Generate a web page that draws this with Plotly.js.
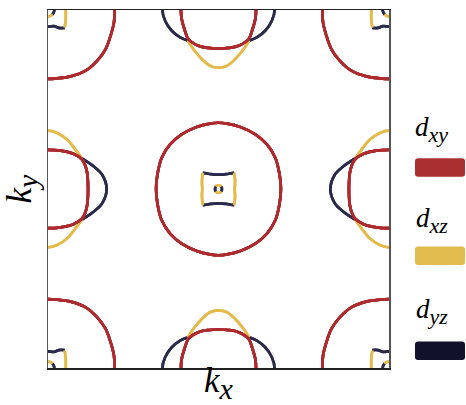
<!DOCTYPE html>
<html><head><meta charset="utf-8">
<script src="https://cdn.plot.ly/plotly-3.0.1.min.js"></script>
<style>html,body{margin:0;padding:0;background:#fff}#chart{width:466px;height:405px}</style>
</head><body><div id="chart"></div>
<script>
// Orbital characters (legend labels)
const orbitalLabels = ['<i>d</i><sub><i><span style="font-size:22px">xy</span></i></sub>',
                       '<i>d</i><sub><i><span style="font-size:22px">xz</span></i></sub>',
                       '<i>d</i><sub><i><span style="font-size:22px">yz</span></i></sub>'];
const orbitalColors = ['#ad2b2f', '#e4bb4b', '#2a2a4a'];
const legendColors = ['#a92f30', '#e2bb4f', '#11112b'];

// High-symmetry pocket centres (kx, ky in units of pi/a)
const gammaCenters = [[0, 0]];
const xCenters = [[-1, 0], [1, 0]];
const yCenters = [[0, 1], [0, -1]];
const mCenters = [[-1, 1], [1, 1], [-1, -1], [1, -1]];

// Fermi-surface contours, one quadrant relative to the pocket centre
// Gamma pocket
const gammaDxyX = [0.366, 0.358, 0.333, 0.284, 0.216, 0.128, 0.05, 0];
const gammaDxyY = [0, 0.082, 0.175, 0.249, 0.305, 0.346, 0.365, 0.37];
const gammaSqDyzX = [0, 0.045, 0.08, 0.092];
const gammaSqDyzY = [0.08, 0.083, 0.089, 0.09];
const gammaSqDxzX = [0.092, 0.096, 0.097, 0.095];
const gammaSqDxzY = [0.09, 0.06, 0.03, 0];
const gammaRingDxzX = [0, 0.011, 0.015];
const gammaRingDxzY = [0.021, 0.018, 0.014];
const gammaRingDyzX = [0.015, 0.019, 0.02];
const gammaRingDyzY = [0.014, 0.007, 0];

// X pocket (dx, dy)
const xDxyX = [0, 0.074, 0.152, 0.2, 0.226, 0.235];
const xDxyY = [0.219, 0.214, 0.195, 0.164, 0.108, 0];
const xDxzX = [0, 0.054, 0.113, 0.162, 0.197];
const xDxzY = [0.326, 0.313, 0.275, 0.219, 0.173];
const xDyzX = [0.197, 0.269, 0.318, 0.344];
const xDyzY = [0.173, 0.126, 0.08, 0];

// Y pocket (dx, dy)
const yDxyX = [0.22, 0.216, 0.2, 0.177, 0.118, 0.06, 0];
const yDxyY = [0, 0.05, 0.106, 0.162, 0.2, 0.212, 0.215];
const yDyzX = [0.329, 0.313, 0.274, 0.225, 0.18];
const yDyzY = [0, 0.06, 0.116, 0.153, 0.171];
const yDxzX = [0.18, 0.148, 0.098, 0.05, 0];
const yDxzY = [0.171, 0.218, 0.274, 0.311, 0.322];

// M pocket (dx, dy)
const mDxyX = [0.391, 0.387, 0.367, 0.338, 0.289, 0.221, 0.133, 0.054, 0];
const mDxyY = [0, 0.069, 0.144, 0.218, 0.283, 0.339, 0.371, 0.382, 0.385];
const mSqDxzX = [0.104, 0.104, 0.098];
const mSqDxzY = [0, 0.05, 0.097];
const mSqDyzX = [0.098, 0.064, 0.035, 0];
const mSqDyzY = [0.1, 0.1, 0.09, 0.093];
const mRingDxzX = [0, 0.018, 0.025];
const mRingDxzY = [0.036, 0.031, 0.025];
const mRingDyzX = [0.025, 0.033, 0.037];
const mRingDyzY = [0.025, 0.015, 0];

// Join a quadrant segment with its mirror images across the symmetry lines it touches
function buildArc(xs, ys) {
  let p = xs.map((v, i) => [v, ys[i]]);
  const mirror = (pts, ax) => pts.map(([a, b]) => ax === 'x' ? [-a, b] : [a, -b]);
  const last = p[p.length - 1];
  if (last[0] === 0) p = p.concat(mirror(p, 'x').reverse().slice(1));
  else if (last[1] === 0) p = p.concat(mirror(p, 'y').reverse().slice(1));
  const first = p[0];
  if (first[0] === 0) p = mirror(p, 'x').reverse().slice(0, -1).concat(p);
  else if (first[1] === 0) p = mirror(p, 'y').reverse().slice(0, -1).concat(p);
  return p;
}

function addPocket(store, centers, xs, ys) {
  const arc = buildArc(xs, ys);
  centers.forEach(([cx, cy]) => {
    [[1, 1], [-1, 1], [-1, -1], [1, -1]].forEach(([sx, sy]) => {
      arc.forEach(([a, b]) => { store.x.push(cx + sx * a); store.y.push(cy + sy * b); });
      store.x.push(null); store.y.push(null);
    });
  });
}

const dxy = {x: [], y: []}, dxz = {x: [], y: []}, dyz = {x: [], y: []};
addPocket(dxy, gammaCenters, gammaDxyX, gammaDxyY);
addPocket(dyz, gammaCenters, gammaSqDyzX, gammaSqDyzY);
addPocket(dxz, gammaCenters, gammaSqDxzX, gammaSqDxzY);
addPocket(dxz, gammaCenters, gammaRingDxzX, gammaRingDxzY);
addPocket(dyz, gammaCenters, gammaRingDyzX, gammaRingDyzY);
addPocket(dxy, xCenters, xDxyX, xDxyY);
addPocket(dxz, xCenters, xDxzX, xDxzY);
addPocket(dyz, xCenters, xDyzX, xDyzY);
addPocket(dxy, yCenters, yDxyX, yDxyY);
addPocket(dyz, yCenters, yDyzX, yDyzY);
addPocket(dxz, yCenters, yDxzX, yDxzY);
addPocket(dxy, mCenters, mDxyX, mDxyY);
addPocket(dxz, mCenters, mSqDxzX, mSqDxzY);
addPocket(dyz, mCenters, mSqDyzX, mSqDyzY);
addPocket(dxz, mCenters, mRingDxzX, mRingDxzY);
addPocket(dyz, mCenters, mRingDyzX, mRingDyzY);

const lineW = 2.7;
const mk = (d, i) => ({type: 'scatter', mode: 'lines', x: d.x, y: d.y, connectgaps: false,
  line: {color: orbitalColors[i], width: lineW, shape: 'spline', smoothing: 1},
  hoverinfo: 'skip', showlegend: false});
const data = [mk(dyz, 2), mk(dxz, 1), mk(dxy, 0)];

const serif = 'Liberation Serif, Times New Roman, serif';
const boxPath = 'M -22,-9.2 L 22,-9.2 Q 25,-9.2 25,-6.2 L 25,6.2 Q 25,9.2 22,9.2 L -22,9.2 Q -25,9.2 -25,6.2 L -25,-6.2 Q -25,-9.2 -22,-9.2 Z';
const boxY = [0.56, 0.3134, 0.048];
const textY = [0.665, 0.413, 0.159];

const layout = {
  width: 466, height: 405,
  margin: {l: 48, r: 77, t: 10, b: 37},
  paper_bgcolor: '#fff', plot_bgcolor: '#fff', showlegend: false,
  xaxis: {range: [-1, 1], showgrid: false, zeroline: false, showticklabels: false, ticks: '',
    showline: true, mirror: true, linecolor: '#222', linewidth: 1.5, fixedrange: true,
    title: {text: '<i>k</i><sub><i><span style="font-size:30px">x</span></i></sub>', font: {family: serif, size: 35, color: '#000'}, standoff: 8}},
  yaxis: {range: [-1, 1], showgrid: false, zeroline: false, showticklabels: false, ticks: '',
    showline: true, mirror: true, linecolor: '#555', linewidth: 1.5, fixedrange: true,
    title: {text: '<i>k</i><sub><i><span style="font-size:30px">y</span></i></sub>', font: {family: serif, size: 35, color: '#000'}, standoff: 4}},
  shapes: legendColors.map((c, i) => ({type: 'path', xref: 'paper', yref: 'paper',
    xsizemode: 'pixel', ysizemode: 'pixel', xanchor: 1.1496, yanchor: boxY[i],
    path: boxPath, fillcolor: c, line: {width: 0}})),
  annotations: orbitalLabels.map((t, i) => ({xref: 'paper', yref: 'paper', x: 1.126, y: textY[i],
    xanchor: 'center', yanchor: 'middle', showarrow: false, text: t,
    font: {family: serif, size: 27, color: '#000'}}))
};
Plotly.newPlot('chart', data, layout, {displayModeBar: false, staticPlot: true});
</script></body></html>
